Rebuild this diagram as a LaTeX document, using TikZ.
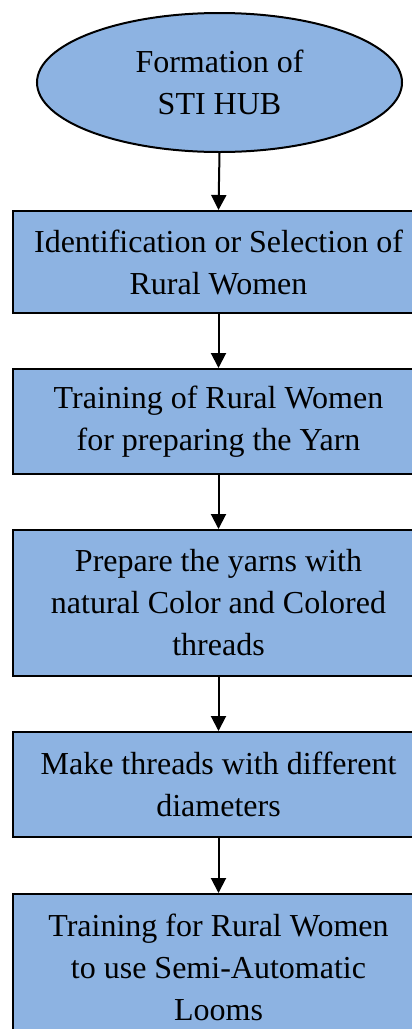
\documentclass[tikz,border=0pt]{standalone}
\usepackage{fontspec}
\setmainfont{Liberation Serif}
\usetikzlibrary{shapes.geometric,arrows.meta}
\definecolor{boxblue}{RGB}{141,179,226}
\begin{document}
\begin{tikzpicture}[x=1pt,y=1pt,
  every node/.style={font=\fontsize{32}{42}\selectfont, align=center, inner sep=0pt},
  stepbox/.style={rectangle, draw=black, line width=2pt, fill=boxblue, minimum width=411pt},
  startoval/.style={ellipse, draw=black, line width=2pt, fill=boxblue, minimum width=365pt, minimum height=139pt},
  flow/.style={line width=2pt, -{Triangle[width=15pt,length=15pt]}}]
\useasboundingbox (0,0) rectangle (412,-1029);
\node[startoval] (hub) at (219.5,-82.5) {Formation of\\STI HUB};
\node[stepbox, minimum height=102pt] (b1) at (218.5,-262) {Identification or Selection of\\Rural Women};
\node[stepbox, minimum height=105pt] (b2) at (218.5,-421.5) {Training of Rural Women\\for preparing the Yarn};
\node[stepbox, minimum height=146pt] (b3) at (218.5,-603) {Prepare the yarns with\\natural Color and Colored\\threads};
\node[stepbox, minimum height=105pt] (b4) at (218.5,-784.5) {Make threads with different\\diameters};
\node[stepbox, minimum height=146pt] (b5) at (218.5,-967) {Training for Rural Women\\to use Semi-Automatic\\Looms};
\draw[flow] (hub.south) -- (b1.north);
\draw[flow] (b1.south) -- (b2.north);
\draw[flow] (b2.south) -- (b3.north);
\draw[flow] (b3.south) -- (b4.north);
\draw[flow] (b4.south) -- (b5.north);
\end{tikzpicture}
\end{document}
